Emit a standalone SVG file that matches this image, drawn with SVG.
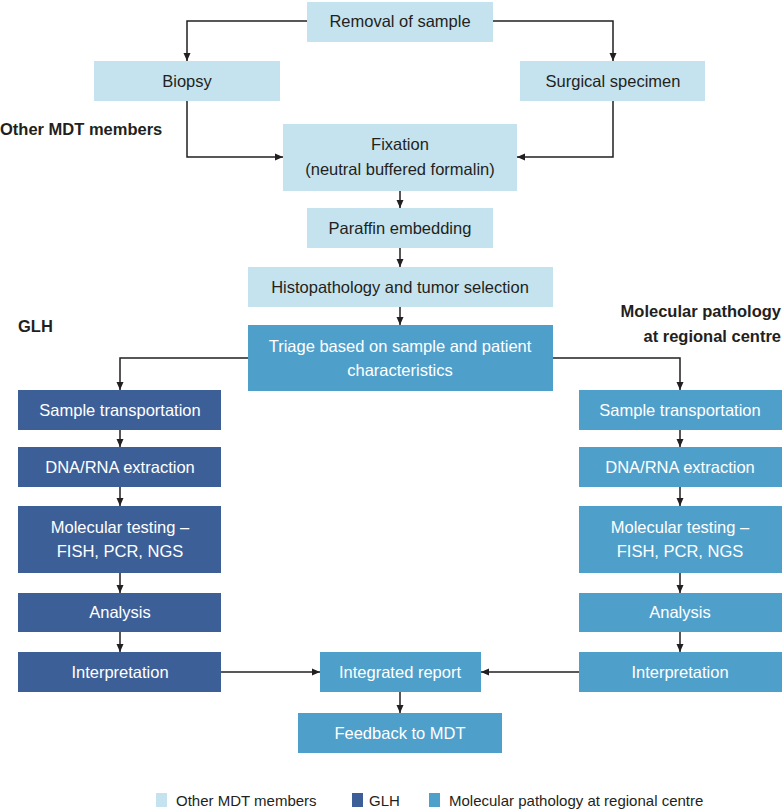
<svg xmlns="http://www.w3.org/2000/svg" width="784" height="812" viewBox="0 0 784 812">
<style>
text{font-family:"Liberation Sans",Arial,sans-serif;font-size:16.5px;text-anchor:middle}
.lt{fill:#c5e3ef}
.dk{fill:#3d5f98}
.md{fill:#4f9fcb}
.tl{fill:#231f20}
.tw{fill:#ffffff}
.hd{font-weight:bold;fill:#231f20;text-anchor:start}
.lg{font-size:15px;fill:#231f20;text-anchor:start}
.cn path{fill:none;stroke:#231f20;stroke-width:1.5;marker-end:url(#ah)}
</style>
<defs>
<marker id="ah" markerUnits="userSpaceOnUse" markerWidth="9" markerHeight="8" refX="8" refY="4" orient="auto">
<path d="M0,0.5 L8,4 L0,7.5 z" fill="#231f20"/>
</marker>
</defs>
<rect width="784" height="812" fill="#ffffff"/>

<g id="labels">
<text class="hd" x="0" y="135">Other MDT members</text>
<text class="hd" x="18" y="332">GLH</text>
<text class="hd" x="781" y="317" style="text-anchor:end">Molecular pathology</text>
<text class="hd" x="781" y="342" style="text-anchor:end">at regional centre</text>
</g>

<g class="cn" id="connectors">
<path d="M307,21 H187 V61"/>
<path d="M493,21 H613 V61"/>
<path d="M187,101 V157 H283"/>
<path d="M613,101 V157 H517"/>
<path d="M400,191 V208"/>
<path d="M400,248 V267"/>
<path d="M400,307 V325"/>
<path d="M248,358 H120 V390"/>
<path d="M553,358 H680 V390"/>
<path d="M120,430 V447"/>
<path d="M120,487 V506"/>
<path d="M120,573 V593"/>
<path d="M120,632 V652"/>
<path d="M680,430 V447"/>
<path d="M680,487 V506"/>
<path d="M680,573 V593"/>
<path d="M680,632 V652"/>
<path d="M221,672 H320"/>
<path d="M579,672 H481"/>
<path d="M400,692 V713"/>
</g>

<g id="removal"><rect class="lt" x="307" y="2" width="186" height="40"/><text class="tl" x="400" y="27">Removal of sample</text></g>
<g id="biopsy"><rect class="lt" x="94" y="61" width="186" height="40"/><text class="tl" x="187" y="87">Biopsy</text></g>
<g id="surgical"><rect class="lt" x="520" y="61" width="185" height="40"/><text class="tl" x="613" y="87">Surgical specimen</text></g>
<g id="fixation"><rect class="lt" x="283" y="124" width="234" height="67"/><text class="tl" x="400" y="150">Fixation</text><text class="tl" x="400" y="175">(neutral buffered formalin)</text></g>
<g id="paraffin"><rect class="lt" x="307" y="208" width="186" height="40"/><text class="tl" x="400" y="234">Paraffin embedding</text></g>
<g id="histo"><rect class="lt" x="248" y="267" width="305" height="40"/><text class="tl" x="400" y="293">Histopathology and tumor selection</text></g>
<g id="triage"><rect class="md" x="248" y="325" width="305" height="66"/><text class="tw" x="400" y="352">Triage based on sample and patient</text><text class="tw" x="400" y="376">characteristics</text></g>

<g id="glh-transport"><rect class="dk" x="18" y="390" width="203" height="40"/><text class="tw" x="120" y="416">Sample transportation</text></g>
<g id="glh-extraction"><rect class="dk" x="18" y="447" width="203" height="40"/><text class="tw" x="120" y="473">DNA/RNA extraction</text></g>
<g id="glh-testing"><rect class="dk" x="18" y="506" width="203" height="67"/><text class="tw" x="120" y="533">Molecular testing –</text><text class="tw" x="120" y="557">FISH, PCR, NGS</text></g>
<g id="glh-analysis"><rect class="dk" x="18" y="593" width="203" height="39"/><text class="tw" x="120" y="618">Analysis</text></g>
<g id="glh-interp"><rect class="dk" x="18" y="652" width="203" height="40"/><text class="tw" x="120" y="678">Interpretation</text></g>

<g id="mp-transport"><rect class="md" x="579" y="390" width="203" height="40"/><text class="tw" x="680" y="416">Sample transportation</text></g>
<g id="mp-extraction"><rect class="md" x="579" y="447" width="203" height="40"/><text class="tw" x="680" y="473">DNA/RNA extraction</text></g>
<g id="mp-testing"><rect class="md" x="579" y="506" width="203" height="67"/><text class="tw" x="680" y="533">Molecular testing –</text><text class="tw" x="680" y="557">FISH, PCR, NGS</text></g>
<g id="mp-analysis"><rect class="md" x="579" y="593" width="203" height="39"/><text class="tw" x="680" y="618">Analysis</text></g>
<g id="mp-interp"><rect class="md" x="579" y="652" width="203" height="40"/><text class="tw" x="680" y="678">Interpretation</text></g>

<g id="integrated"><rect class="md" x="320" y="652" width="161" height="40"/><text class="tw" x="400" y="678">Integrated report</text></g>
<g id="feedback"><rect class="md" x="298" y="713" width="204" height="40"/><text class="tw" x="400" y="739">Feedback to MDT</text></g>

<g id="legend">
<rect class="lt" x="156" y="793" width="11" height="14"/>
<text class="lg" x="176" y="806">Other MDT members</text>
<rect class="dk" x="352" y="793" width="11" height="14"/>
<text class="lg" x="369" y="806">GLH</text>
<rect class="md" x="429" y="793" width="11" height="14"/>
<text class="lg" x="449" y="806">Molecular pathology at regional centre</text>
</g>
</svg>
